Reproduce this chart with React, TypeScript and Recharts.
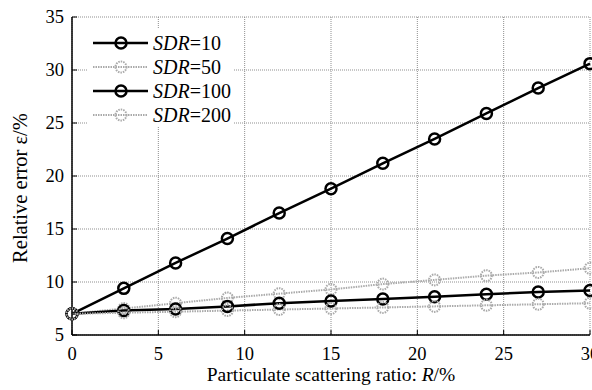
import React from 'react';
import { LineChart, Line, XAxis, YAxis, CartesianGrid } from 'recharts';

const ratios = [0, 3, 6, 9, 12, 15, 18, 21, 24, 27, 30];
const sdr10 = [7.0, 9.4, 11.8, 14.1, 16.5, 18.8, 21.2, 23.5, 25.9, 28.3, 30.6];
const sdr50 = [7.0, 7.5, 8.0, 8.5, 8.9, 9.3, 9.8, 10.2, 10.6, 10.9, 11.3];
const sdr100 = [7.0, 7.3, 7.45, 7.7, 8.0, 8.2, 8.4, 8.6, 8.85, 9.05, 9.2];
const sdr200 = [7.0, 7.1, 7.2, 7.3, 7.4, 7.5, 7.6, 7.7, 7.8, 7.9, 8.0];
const xTicks = [0, 5, 10, 15, 20, 25, 30];
const yTicks = [5, 10, 15, 20, 25, 30, 35];
const seriesNames = ['10', '50', '100', '200'];

const data = ratios.map((r, i) => ({
  r,
  s10: sdr10[i],
  s50: sdr50[i],
  s100: sdr100[i],
  s200: sdr200[i],
}));

const FONT = "'Liberation Serif', 'Times New Roman', 'DejaVu Serif', serif";
const BLACK = '#000';
const GRAY = '#aaaaaa';

const styles = [
  { key: 's10', color: BLACK, dash: undefined as string | undefined, width: 2.5 },
  { key: 's50', color: GRAY, dash: '1.5 1', width: 2 },
  { key: 's100', color: BLACK, dash: undefined as string | undefined, width: 2.5 },
  { key: 's200', color: GRAY, dash: '1.5 1', width: 2 },
];

const XTick = (props: any) => {
  const { x, y, payload } = props;
  return (
    <g>
      <line x1={x} y1={y} x2={x} y2={y - 5} stroke="#000" strokeWidth={1} />
      <text x={x} y={y + 25} textAnchor="middle" style={{ fontFamily: FONT }} fontSize={18.5} fill="#000">
        {payload.value}
      </text>
    </g>
  );
};

const YTick = (props: any) => {
  const { x, y, payload } = props;
  return (
    <g>
      <line x1={x} y1={y} x2={x + 5} y2={y} stroke="#000" strokeWidth={1} />
      <text x={x - 8} y={y + 6} textAnchor="end" style={{ fontFamily: FONT }} fontSize={18.5} fill="#000">
        {payload.value}
      </text>
    </g>
  );
};

const makeDot = (color: string, dash: string | undefined, width: number) => (props: any) => {
  const { cx, cy, index } = props;
  return (
    <circle
      key={`d-${index}`}
      cx={cx}
      cy={cy}
      r={5.5}
      fill="none"
      stroke={color}
      strokeWidth={width}
      strokeDasharray={dash}
    />
  );
};

export default function App() {
  return (
    <div style={{ position: 'absolute', left: 0, top: 0, width: 592, height: 390, background: '#fff', fontFamily: FONT }}>
      <LineChart width={592} height={390} data={data} margin={{ top: 17, right: 2, bottom: 0, left: 0 }}>
        <CartesianGrid stroke="#8f8f8f" strokeDasharray="1 1" strokeWidth={1} />
        <XAxis
          dataKey="r"
          type="number"
          domain={[0, 30]}
          ticks={xTicks}
          tick={<XTick />}
          tickLine={false}
          tickSize={0}
          tickMargin={0}
          height={55}
          axisLine={{ stroke: '#000', strokeWidth: 1.5 }}
          interval={0}
        />
        <YAxis
          type="number"
          domain={[5, 35]}
          ticks={yTicks}
          tick={<YTick />}
          tickLine={false}
          tickSize={0}
          tickMargin={0}
          width={72}
          axisLine={{ stroke: '#000', strokeWidth: 1.5 }}
          interval={0}
        />
        {styles.map((s) => (
          <Line
            key={s.key}
            dataKey={s.key}
            type="linear"
            stroke={s.color}
            strokeWidth={s.width}
            strokeDasharray={s.dash}
            dot={makeDot(s.color, s.dash, s.width)}
            activeDot={false}
            isAnimationActive={false}
          />
        ))}
      </LineChart>
      <div
        style={{
          position: 'absolute',
          left: 88,
          top: 29,
          width: 146,
          height: 97,
          paddingTop: 2,
          paddingLeft: 3,
          boxSizing: 'border-box',
          background: '#fff',
          fontFamily: FONT,
          fontSize: 20,
          lineHeight: '24px',
        }}
      >
        {styles.map((s, i) => (
          <div key={s.key} style={{ display: 'flex', alignItems: 'center', height: 24 }}>
            <svg width={60} height={16} style={{ display: 'block' }}>
              <line x1={2} y1={8} x2={57} y2={8} stroke={s.color} strokeWidth={s.width} strokeDasharray={s.dash} />
              <circle cx={30} cy={8} r={5.5} fill="none" stroke={s.color} strokeWidth={s.width} strokeDasharray={s.dash} />
            </svg>
            <span style={{ marginLeft: 2 }}>
              <i>SDR</i>={seriesNames[i]}
            </span>
          </div>
        ))}
      </div>
      <div
        style={{
          position: 'absolute',
          left: 72,
          width: 518,
          top: 364,
          textAlign: 'center',
          fontFamily: FONT,
          fontSize: 19.5,
          whiteSpace: 'nowrap',
        }}
      >
        Particulate scattering ratio: <i>R</i>/%
      </div>
      <div
        style={{
          position: 'absolute',
          left: 20,
          top: 188,
          transform: 'translate(-50%, -50%) rotate(-90deg)',
          fontFamily: FONT,
          fontSize: 20.5,
          fontStyle: 'normal',
          whiteSpace: 'nowrap',
        }}
      >
        Relative error <span style={{ fontStyle: 'normal' }}>ε</span>/%
      </div>
    </div>
  );
}
